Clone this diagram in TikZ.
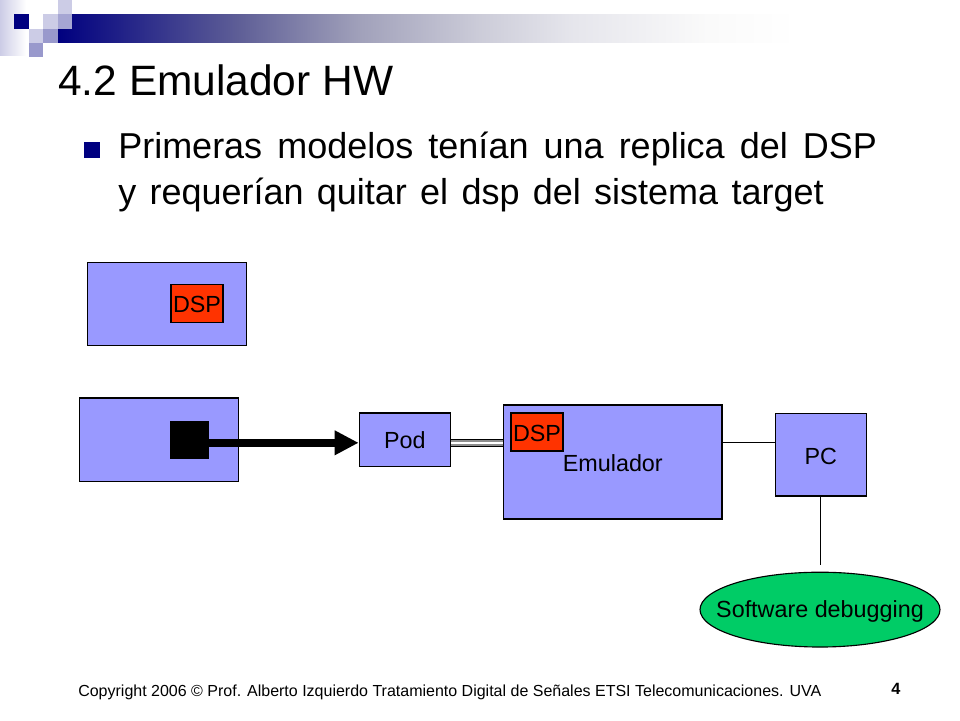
\documentclass[tikz,border=0pt]{standalone}
\usepackage{fontspec}
\setmainfont{Liberation Sans}
\usetikzlibrary{shapes.geometric,arrows.meta}
\definecolor{boxblue}{HTML}{9999FF}
\definecolor{dspred}{HTML}{FF3300}
\definecolor{debuggreen}{HTML}{00CC66}
\definecolor{headnavy}{HTML}{000080}
\definecolor{headlight}{HTML}{CCCCE6}
\definecolor{headmid}{HTML}{9999CC}
\pgfdeclarehorizontalshading{headband}{100bp}{
  rgb(0bp)=(0,0,0.5);
  rgb(25bp)=(0,0,0.5);
  rgb(35bp)=(0.37,0.37,0.59);
  rgb(41.7bp)=(0.63,0.63,0.73);
  rgb(48.4bp)=(0.80,0.80,0.85);
  rgb(53.5bp)=(0.90,0.90,0.925);
  rgb(61bp)=(0.98,0.98,0.98);
  rgb(66bp)=(1,1,1);
  rgb(100bp)=(1,1,1)}
\newcommand{\labelfont}{\fontsize{16.6pt}{20pt}\selectfont}
\tikzset{
  blockbox/.style={draw=black, fill=boxblue, line width=0.8pt, inner sep=0pt, text height=0.47cm, font=\labelfont},
  dspbox/.style={draw=black, fill=dspred, line width=0.8pt, inner sep=0pt, minimum width=1.3cm, minimum height=0.95cm, text height=0.48cm, font=\labelfont},
  wire/.style={draw=black, line width=0.8pt},
  bodytext/.style={inner sep=0pt, anchor=north west, align=left, font=\fontsize{25.6pt}{32.6pt}\selectfont}
}
\begin{document}
\begin{tikzpicture}
\useasboundingbox (0cm,0cm) rectangle (24cm,-18cm);
% header
\fill[left color=headlight, right color=white] (0cm,0cm) rectangle (0.65cm,-1.38cm);
\shade[shading=headband] (1.45cm,-0.35cm) rectangle (24cm,-1.07cm);
\fill[headnavy] (0.35cm,-0.35cm) rectangle (0.72cm,-0.72cm);
\fill[headlight] (1.08cm,-0.35cm) rectangle (1.45cm,-0.72cm);
\fill[headlight] (1.45cm,0cm) rectangle (1.8cm,-0.35cm);
\fill[headmid!75!headlight] (1.45cm,-0.35cm) rectangle (1.8cm,-0.72cm);
\fill[headlight] (0.72cm,-0.72cm) rectangle (1.08cm,-1.07cm);
\fill[headmid] (1.08cm,-0.72cm) rectangle (1.45cm,-1.07cm);
\fill[headmid] (0.72cm,-1.07cm) rectangle (1.08cm,-1.42cm);
% title and text
\node[inner sep=0pt, anchor=base west, font=\fontsize{30.2pt}{36pt}\selectfont] (title) at (1.45cm,-2.38cm) {4.2 Emulador HW};
\fill[headnavy] (2.1cm,-3.55cm) rectangle (2.5cm,-3.95cm);
\node[bodytext] (body) at (2.95cm,-3.3cm) {\spaceskip=0.42em Primeras modelos tenían una replica del DSP\\ \spaceskip=0.37em y requerían quitar el dsp del sistema target};
% target with DSP
\node[blockbox, minimum width=3.97cm, minimum height=2.08cm] (target) at (4.17cm,-7.6cm) {};
\node[dspbox] (dspa) at (4.925cm,-7.58cm) {DSP};
% target with pod
\coordinate (busy) at (0cm,-11.07cm);
\node[blockbox, minimum width=3.98cm, minimum height=2.08cm] (targetb) at (3.975cm,-10.99cm) {};
\node[fill=black, inner sep=0pt, minimum width=0.97cm, minimum height=0.95cm] (chip) at (4.74cm,-11cm) {};
\node[blockbox, minimum width=2.28cm, minimum height=1.33cm] (pod) at (10.12cm,-10.99cm) {Pod};
\node[blockbox, minimum width=5.46cm, minimum height=2.85cm] (emu) at (15.32cm,-11.55cm) {Emulador};
\node[dspbox] (dspb) at (13.425cm,-10.8cm) {DSP};
\node[blockbox, minimum width=2.28cm, minimum height=2.06cm] (pc) at (20.52cm,-11.37cm) {PC};
\node[draw=black, fill=debuggreen, line width=0.8pt, ellipse, inner sep=0pt, minimum width=6cm, minimum height=1.87cm] (debug) at (20.5cm,-15.24cm) {};
\node[inner sep=0pt, anchor=base, font=\labelfont] (debuglabel) at ([yshift=-0.2cm]debug.center) {Software debugging};
\coordinate (debugtop) at (20.52cm,-14.12cm);
% connectors
\draw[-{Triangle[length=0.6cm,width=0.58cm]},black,line width=5.7pt] (chip.east |- busy) -- (pod.west |- busy);
\draw[black,line width=5.6pt] (pod.east |- busy) -- (emu.west |- busy);
\draw[black!45,line width=4pt] (pod.east |- busy) -- (emu.west |- busy);
\draw[white,line width=1pt] (pod.east |- busy) -- (emu.west |- busy);
\draw[wire] (emu.east |- busy) -- (pc.west |- busy);
\draw[wire] (pc.south) -- (debugtop);
% footer
\node[inner sep=0pt, anchor=base west, font=\fontsize{11.38pt}{14pt}\selectfont] (copy) at (1.95cm,-17.4cm) {Copyright 2006 © Prof. Alberto Izquierdo Tratamiento Digital de Señales  ETSI Telecomunicaciones. UVA};
\node[inner sep=0pt, anchor=base, font=\fontsize{11.6pt}{14pt}\selectfont\bfseries] (page) at (22.4cm,-17.37cm) {4};
\end{tikzpicture}
\end{document}
